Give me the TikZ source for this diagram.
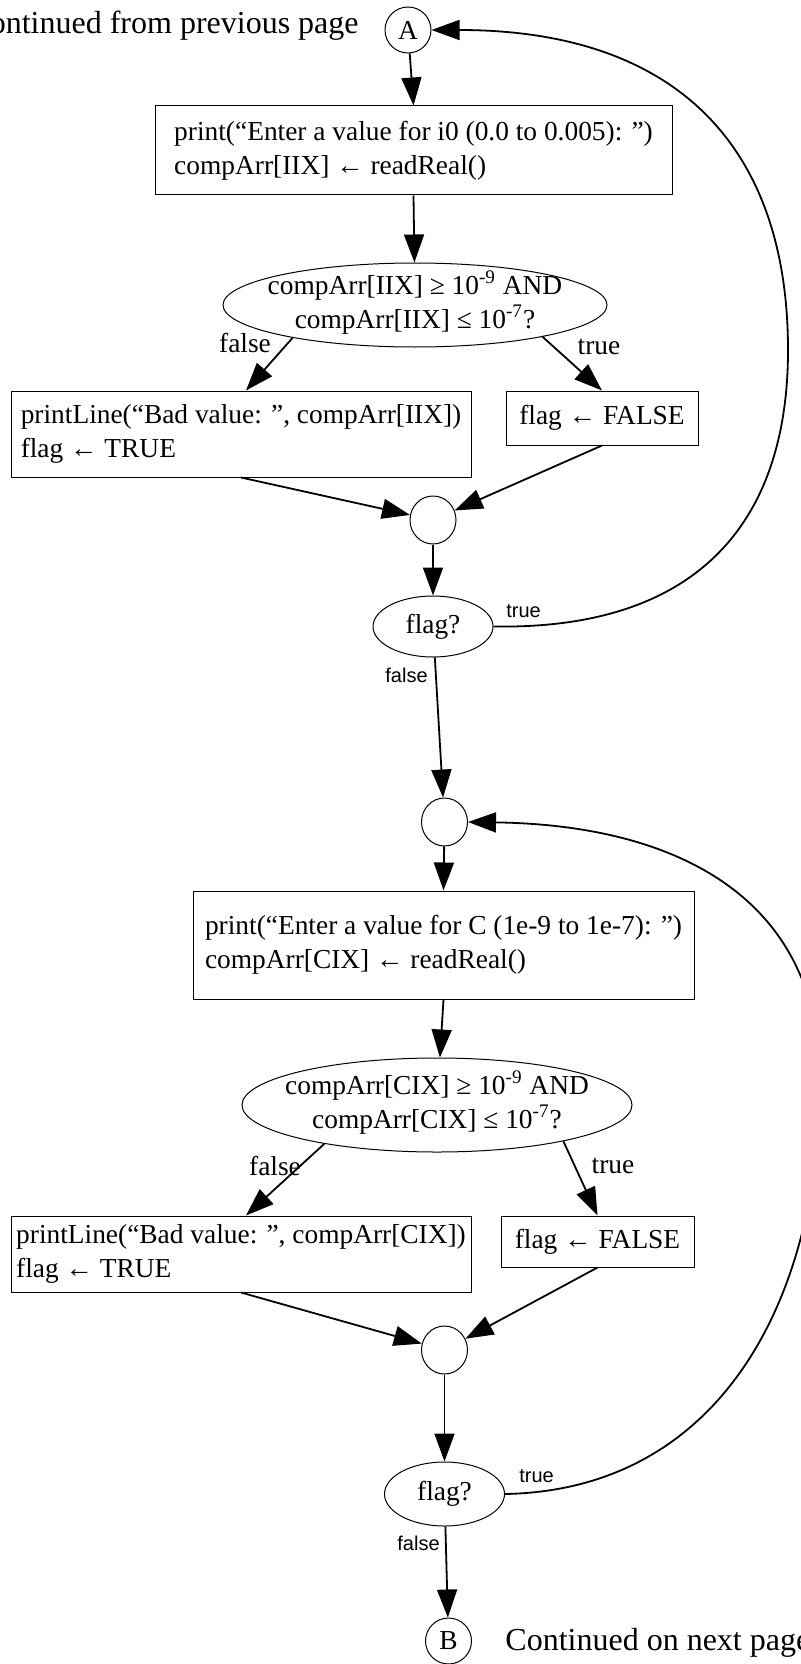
\documentclass[tikz,border=0pt]{standalone}
\usepackage{fontspec}
\setmainfont{Liberation Serif}
\newfontfamily\lsans{Liberation Sans}
\usetikzlibrary{arrows.meta,shapes.geometric}
\newcommand{\ctrtext}[1]{\makebox[0pt]{\smash{\raisebox{-3.4pt}{\begin{tabular}{@{}c@{}}#1\end{tabular}}}}}
\begin{document}
\begin{tikzpicture}[x=0.5pt,y=-0.5pt,
  every node/.style={font=\fontsize{13.7pt}{17pt}\selectfont},
  proc/.style={draw, line width=0.5pt, rectangle, align=left, inner sep=0pt},
  dec/.style={draw, line width=0.5pt, ellipse, inner sep=0pt},
  joinpt/.style={draw, line width=0.5pt, ellipse, minimum width=23pt, minimum height=24pt, inner sep=0pt},
  conn/.style={draw, line width=0.5pt, circle, minimum size=23pt, inner sep=0pt},
  flow/.style={line width=0.9pt, -{Triangle[length=14pt,width=10pt]}},
  slabel/.style={font=\lsans\fontsize{10pt}{12pt}\selectfont, inner sep=0pt, anchor=base west},
  tlabel/.style={inner sep=0pt},
  note/.style={font=\fontsize{16pt}{18pt}\selectfont, inner sep=0pt}
]
\useasboundingbox (0,0) rectangle (801,1664);

% nodes
\node[note, anchor=base east] (cprev) at (359,34) {Continued from previous page};
\node[conn] (A) at (408,30) {A};
\node[proc, minimum width=258.5pt, minimum height=44.5pt] (b1) at (413.5,150.5)
  {print(“Enter a value for i0 (0.0 to 0.005): ”)\\compArr[IIX] ← readReal()};
\node[dec, minimum width=192pt, minimum height=42pt] (d1) at (415,305)
  {\ctrtext{compArr[IIX] ≥ 10\textsuperscript{-9} AND\\compArr[IIX] ≤ 10\textsuperscript{-7}?}};
\node[proc, minimum width=230pt, minimum height=43pt] (fb1) at (241,434)
  {printLine(“Bad value: ”, compArr[IIX])\\flag ← TRUE};
\node[proc, minimum width=96pt, minimum height=27pt] (tb1) at (602,418) {flag ← FALSE};
\node[joinpt] (m1) at (433,520) {};
\node[dec, minimum width=60pt, minimum height=30.5pt] (flag1) at (433,626.5) {flag?};
\node[joinpt] (m2) at (444.5,822) {};
\node[proc, minimum width=250.5pt, minimum height=54pt] (b2) at (443.5,945)
  {print(“Enter a value for C (1e-9 to 1e-7): ”)\\compArr[CIX] ← readReal()};
\node[dec, minimum width=195pt, minimum height=47pt] (d2) at (437,1105)
  {\ctrtext{compArr[CIX] ≥ 10\textsuperscript{-9} AND\\compArr[CIX] ≤ 10\textsuperscript{-7}?}};
\node[proc, minimum width=230pt, minimum height=38pt] (fb2) at (241,1254)
  {printLine(“Bad value: ”, compArr[CIX])\\flag ← TRUE};
\node[proc, minimum width=96.5pt, minimum height=25.5pt] (tb2) at (597.5,1241.5) {flag ← FALSE};
\node[joinpt] (m3) at (444.5,1350) {};
\node[dec, minimum width=60pt, minimum height=32pt] (flag2) at (444.5,1494) {flag?};
\node[conn] (B) at (448.5,1641) {B};
\node[note, anchor=base west] (cnext) at (505,1650) {Continued on next page};

% labels
\node[tlabel] (lf1) at (245,343) {false};
\node[tlabel] (lt1) at (599,347) {true};
\node[slabel] (st1) at (506,617) {true};
\node[slabel] (sf1) at (385,682) {false};
\node[tlabel] (lf2) at (275,1166) {false};
\node[tlabel] (lt2) at (613,1166) {true};
\node[slabel] (st2) at (519,1482) {true};
\node[slabel] (sf2) at (397,1550) {false};

% edges
\draw[flow] (A) -- (b1.north);
\draw[flow] (b1.south) -- (d1);
\draw[flow] (d1.195) -- ([xshift=2.5pt]fb1.north);
\draw[flow] (d1.-14) -- (tb1.north);
\draw[flow] (fb1.south) -- (m1);
\draw[flow] (tb1.south) -- (m1);
\draw[flow] (m1) -- (flag1);
\draw[flow] (flag1) -- (m2);
\draw[flow] (flag1.east) .. controls (700,630) and (788,520) .. (788,350)
  .. controls (788,150) and (680,30) .. (A.east);
\draw[flow] (m2) -- (b2.north);
\draw[flow] (b2.south) -- (d2);
\draw[flow] (d2.199) -- ([xshift=2.5pt]fb2.north);
\draw[flow] (d2.-16) -- (tb2.north);
\draw[flow] (fb2.south) -- (m3);
\draw[flow] (tb2.south) -- (m3);
\draw[flow] (m3) -- (flag2);
\draw[flow] (flag2) -- (B);
\draw[flow] (flag2.east) .. controls (720,1490) and (820,1300) .. (820,1080)
  .. controls (820,900) and (680,825) .. (m2.east);
\end{tikzpicture}
\end{document}
